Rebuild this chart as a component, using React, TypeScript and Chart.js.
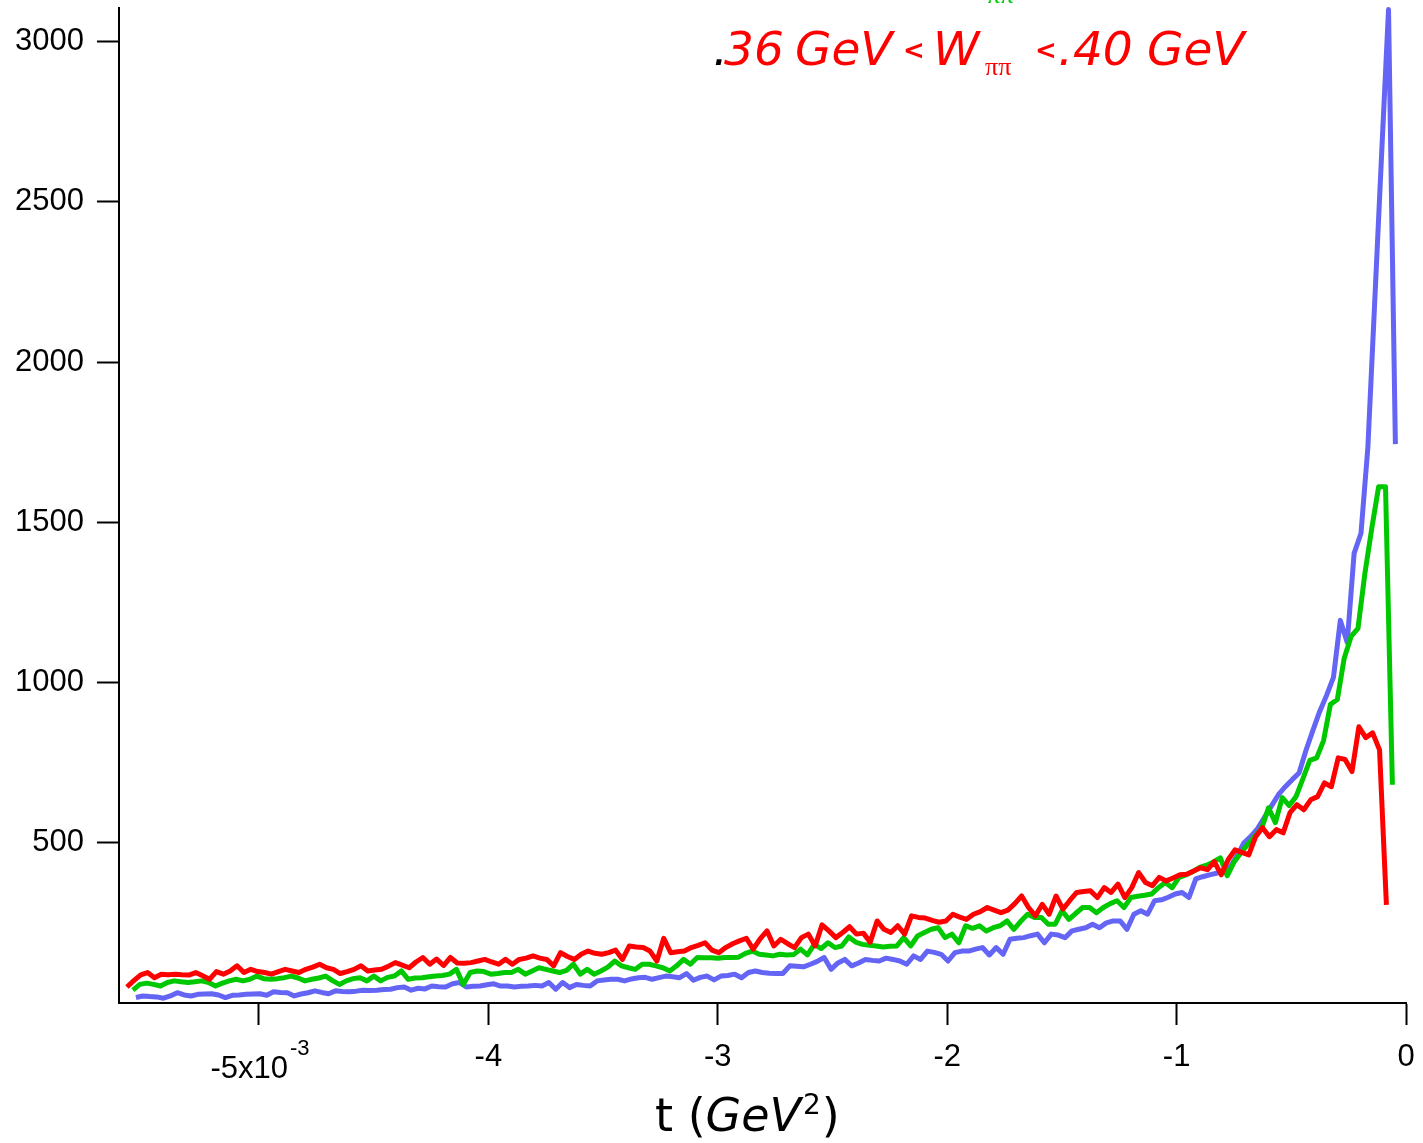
import React, { useEffect, useRef } from "react";
import { Chart, registerables } from "chart.js";

Chart.register(...registerables);

// bin width in t (GeV^2) and first bin position for each W bin
const binStep = 0.00003;
const redStart = -0.0055754;
const greenStart = -0.0055493;
const blueStart = -0.0055362;

const redValues = [
  50, 70, 88, 95, 79, 90, 88, 90, 88, 87,
  95, 85, 74, 98, 90, 100, 116, 95, 105, 98,
  95, 90, 98, 105, 100, 95, 105, 112, 121, 110,
  105, 92, 98, 105, 116, 100, 103, 105, 115, 126,
  118, 110, 128, 142, 121, 137, 117, 142, 125, 124,
  126, 131, 136, 128, 121, 136, 121, 136, 140, 147,
  140, 136, 116, 157, 145, 136, 152, 162, 155, 152,
  157, 165, 136, 178, 175, 173, 162, 131, 202, 157,
  160, 162, 173, 180, 188, 165, 157, 173, 185, 194,
  202, 168, 200, 225, 178, 199, 185, 173, 204, 215,
  178, 244, 225, 204, 220, 238, 215, 218, 190, 256,
  230, 220, 241, 215, 272, 267, 265, 258, 252, 256,
  277, 268, 261, 277, 285, 298, 290, 282, 290, 310,
  334, 298, 272, 308, 277, 334, 293, 320, 345, 348,
  350, 329, 360, 345, 371, 329, 360, 407, 376, 366,
  392, 381, 390, 400, 402, 412, 422, 416, 441, 400,
  447, 478, 470, 462, 519, 547, 519, 541, 531, 594,
  619, 603, 634, 644, 687, 675, 765, 760, 722, 862,
  828, 843, 790, 306,
];

const greenValues = [
  40, 58, 62, 58, 53, 64, 69, 66, 64, 66,
  69, 64, 53, 62, 69, 74, 69, 74, 84, 76,
  74, 76, 79, 84, 78, 69, 74, 78, 84, 70,
  58, 69, 76, 79, 69, 84, 69, 80, 84, 100,
  74, 78, 79, 82, 84, 86, 90, 105, 58, 95,
  100, 98, 90, 92, 95, 95, 105, 90, 100, 110,
  105, 100, 95, 102, 121, 90, 105, 90, 100, 112,
  131, 116, 110, 105, 121, 121, 116, 110, 100, 116,
  136, 121, 142, 141, 141, 140, 142, 142, 143, 155,
  162, 152, 150, 147, 152, 150, 151, 168, 150, 183,
  170, 188, 173, 178, 206, 190, 183, 180, 178, 175,
  177, 178, 204, 178, 209, 220, 230, 235, 204, 215,
  188, 241, 233, 241, 225, 235, 241, 256, 230, 255,
  277, 267, 267, 246, 246, 288, 261, 280, 298, 298,
  282, 298, 310, 319, 298, 329, 333, 336, 340, 360,
  376, 360, 392, 400, 410, 423, 430, 440, 453, 397,
  440, 469, 495, 520, 545, 609, 563, 641, 616, 644,
  700, 757, 765, 819, 932, 947, 1076, 1144, 1169, 1340,
  1480, 1611, 1611, 681,
];

const blueValues = [
  17, 22, 20, 19, 15, 22, 32, 25, 22, 27,
  28, 29, 25, 17, 24, 25, 27, 28, 29, 24,
  35, 33, 32, 22, 28, 32, 38, 33, 29, 38,
  36, 35, 37, 40, 39, 40, 42, 43, 48, 50,
  40, 46, 44, 53, 51, 50, 60, 64, 50, 52,
  53, 57, 60, 53, 53, 50, 52, 53, 55, 53,
  64, 43, 64, 48, 58, 55, 53, 69, 72, 74,
  74, 69, 75, 79, 80, 74, 79, 84, 82, 79,
  92, 71, 80, 84, 72, 84, 86, 90, 79, 95,
  100, 95, 93, 92, 92, 116, 115, 113, 121, 130,
  142, 105, 125, 136, 116, 125, 136, 133, 131, 140,
  136, 131, 121, 147, 136, 162, 158, 152, 131, 157,
  162, 162, 168, 173, 150, 173, 152, 199, 202, 204,
  210, 215, 188, 215, 212, 204, 225, 230, 235, 246,
  235, 250, 256, 256, 230, 277, 288, 277, 319, 322,
  330, 340, 345, 329, 387, 394, 400, 405, 415, 425,
  460, 500, 520, 545, 580, 615, 650, 675, 697, 718,
  788, 850, 910, 960, 1016, 1194, 1125, 1403, 1466, 1734,
  2190, 2650, 3100, 1744,
];

const xTickValues = [-0.005, -0.004, -0.003, -0.002, -0.001, 0];
const xTickLabels = ["", "-4", "-3", "-2", "-1", "0"];
const yTickValues = [500, 1000, 1500, 2000, 2500, 3000];
const xMin = -0.00561;
const xMax = 0;
const yMin = 0;
const yMax = 3105;

const RED = "#ff0000";
const GREEN = "#00c800";
const BLUE = "#6464f5";

function toPoints(start: number, values: number[]) {
  return values.map((v, i) => ({ x: start + i * binStep, y: v }));
}

const textPlugin = {
  id: "customText",
  afterDraw(chart: any) {
    const ctx = chart.ctx as CanvasRenderingContext2D;
    const xs = chart.scales.x;
    ctx.save();

    // first x tick label with exponent
    const px = xs.getPixelForValue(xTickValues[0]);
    ctx.fillStyle = "#000";
    ctx.textBaseline = "middle";
    ctx.textAlign = "right";
    ctx.font = '31px "Liberation Sans"';
    ctx.fillText("-5x10", px + 29, 1069);
    ctx.textAlign = "left";
    ctx.font = '22px "Liberation Sans"';
    ctx.fillText("-3", px + 31, 1049);

    // axis title  t (GeV²)
    ctx.textBaseline = "alphabetic";
    ctx.textAlign = "left";
    let x = 655;
    const by = 1131;
    ctx.font = '46px "DejaVu Sans"';
    ctx.fillText("t (", x, by);
    x += ctx.measureText("t (").width;
    ctx.font = 'italic 46px "DejaVu Sans"';
    ctx.fillText("GeV", x, by);
    x += ctx.measureText("GeV").width + 2;
    ctx.font = '28px "DejaVu Sans"';
    ctx.fillText("2", x, by - 17);
    x += ctx.measureText("2").width + 1;
    ctx.font = '46px "DejaVu Sans"';
    ctx.fillText(")", x, by);

    // red W range label
    const ty = 65;
    ctx.font = 'italic 47px "DejaVu Sans"';
    ctx.fillStyle = "#000";
    ctx.fillText(".", 713, ty);
    ctx.fillStyle = RED;
    ctx.fillText("36", 724, ty);
    ctx.fillText("GeV", 795, ty);
    ctx.font = 'bold 26px "DejaVu Sans"';
    ctx.fillText("<", 903, ty - 6);
    ctx.font = 'italic 47px "DejaVu Sans"';
    ctx.fillText("W", 933, ty);
    ctx.font = '26px "Liberation Serif"';
    ctx.fillText("ππ", 985, ty + 10);
    ctx.font = 'bold 26px "DejaVu Sans"';
    ctx.fillText("<", 1035, ty - 6);
    ctx.font = 'italic 47px "DejaVu Sans"';
    ctx.fillText(".40", 1058, ty);
    ctx.fillText("GeV", 1147, ty);

    // cut-off green label fragment at the very top
    ctx.fillStyle = GREEN;
    ctx.font = '26px "Liberation Serif"';
    ctx.fillText("ππ", 987, 3);

    ctx.restore();
  },
};

export default function App() {
  const canvasRef = useRef<HTMLCanvasElement | null>(null);

  useEffect(() => {
    document.body.style.margin = "0";
    document.body.style.overflow = "hidden";
    const canvas = canvasRef.current;
    if (!canvas) return;

    const tickFont = { family: "Liberation Sans", size: 31 };
    const lineStyle = {
      borderWidth: 5,
      pointRadius: 0,
      tension: 0,
      fill: false,
      borderJoinStyle: "round",
      clip: false,
    };

    const chart = new Chart(canvas, {
      type: "line",
      data: {
        datasets: [
          {
            label: "red",
            data: toPoints(redStart, redValues),
            borderColor: RED,
            backgroundColor: RED,
            order: 0,
            ...lineStyle,
          },
          {
            label: "green",
            data: toPoints(greenStart, greenValues),
            borderColor: GREEN,
            backgroundColor: GREEN,
            order: 1,
            ...lineStyle,
          },
          {
            label: "blue",
            data: toPoints(blueStart, blueValues),
            borderColor: BLUE,
            backgroundColor: BLUE,
            order: 2,
            ...lineStyle,
          },
        ],
      },
      options: {
        animation: false,
        responsive: false,
        maintainAspectRatio: false,
        devicePixelRatio: 1,
        layout: { padding: { left: 0, top: 8, right: 17, bottom: 0 } },
        plugins: {
          legend: { display: false },
          tooltip: { enabled: false },
          title: { display: false },
        },
        scales: {
          x: {
            type: "linear",
            position: "bottom",
            min: xMin,
            max: xMax,
            afterBuildTicks: (s: any) => {
              s.ticks = xTickValues.map((v) => ({ value: v }));
            },
            afterFit: (s: any) => {
              s.height = 140;
              s.paddingLeft = 0;
              s.paddingRight = 0;
            },
            grid: {
              display: true,
              drawOnChartArea: false,
              drawTicks: true,
              tickLength: 22,
              tickWidth: 2,
              tickColor: "#000",
            },
            border: { display: true, color: "#000", width: 2 },
            ticks: {
              font: tickFont,
              color: "#000",
              padding: 14,
              maxRotation: 0,
              autoSkip: false,
              callback: (v: any) => {
                const idx = xTickValues.findIndex((t) => Math.abs(t - Number(v)) < 1e-9);
                return idx >= 0 ? xTickLabels[idx] : "";
              },
            },
          },
          y: {
            type: "linear",
            position: "left",
            min: yMin,
            max: yMax,
            afterBuildTicks: (s: any) => {
              s.ticks = yTickValues.map((v) => ({ value: v }));
            },
            afterFit: (s: any) => {
              s.width = 119;
              s.paddingTop = 0;
              s.paddingBottom = 0;
            },
            grid: {
              display: true,
              drawOnChartArea: false,
              drawTicks: true,
              tickLength: 22,
              tickWidth: 2,
              tickColor: "#000",
            },
            border: { display: true, color: "#000", width: 2 },
            ticks: {
              font: tickFont,
              color: "#000",
              padding: 13,
              autoSkip: false,
              callback: (v: any) => String(v),
            },
          },
        },
      },
      plugins: [textPlugin],
    } as any);

    return () => {
      chart.destroy();
    };
  }, []);

  return (
    <div style={{ width: 1423, height: 1143, position: "relative", background: "#fff" }}>
      <canvas ref={canvasRef} width={1423} height={1143} style={{ display: "block" }} />
    </div>
  );
}
